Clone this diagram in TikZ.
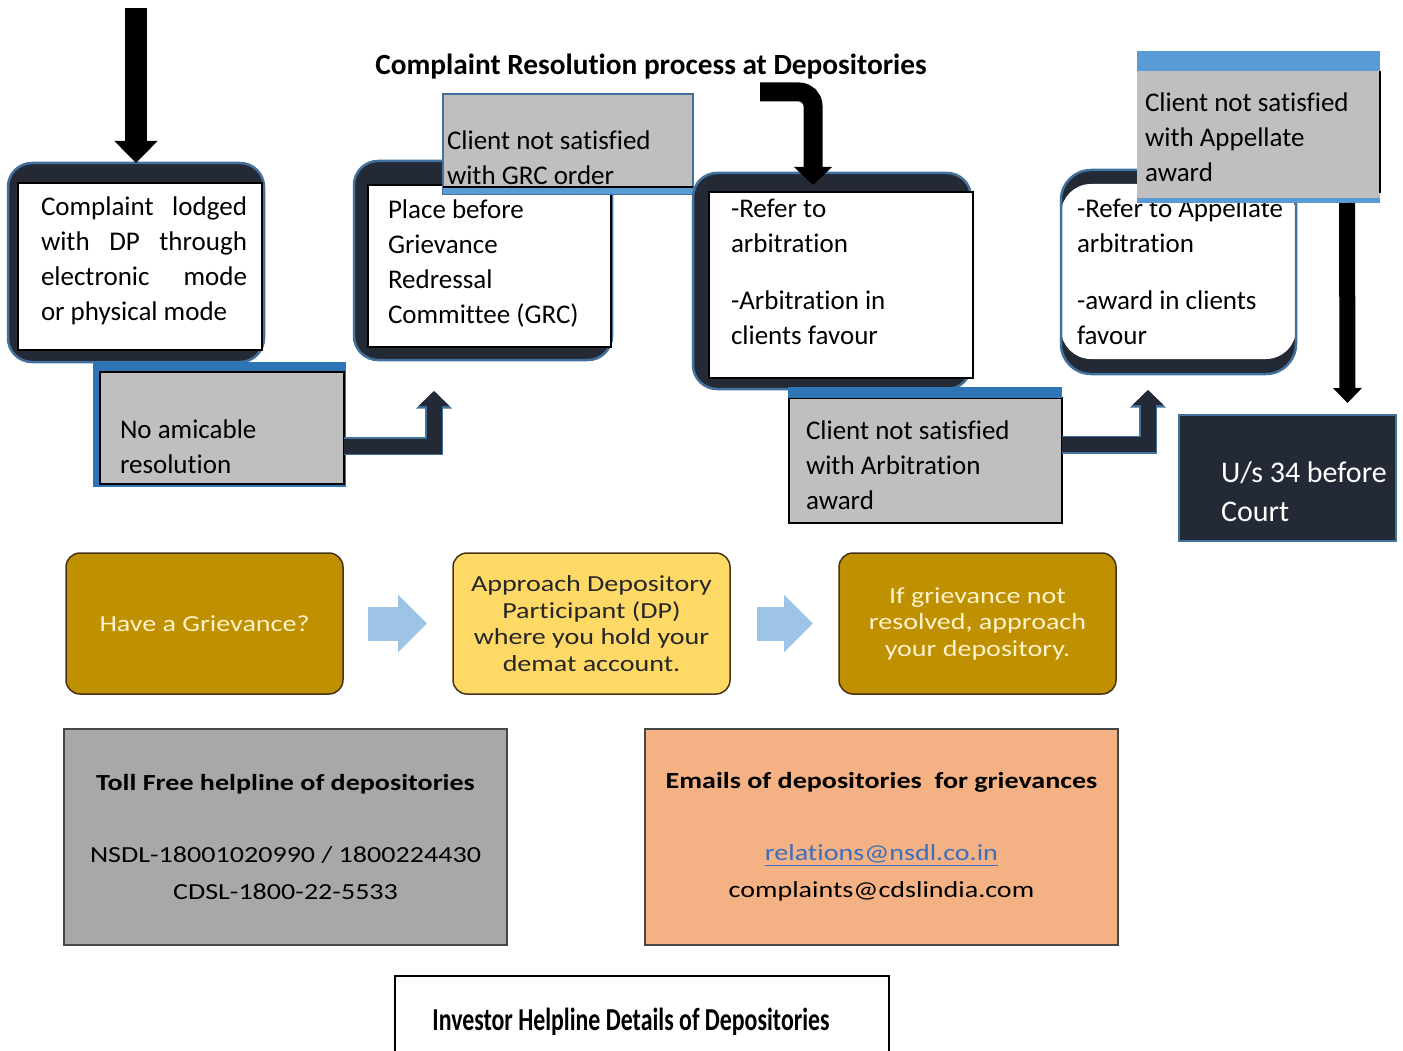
\documentclass[tikz,border=0pt]{standalone}
\usepackage{fontspec}
\defaultfontfeatures{Ligatures={TeX,NoCommon}}
\setmainfont{Carlito}
\newfontfamily\widefont[FakeStretch=1.22]{Carlito}
\newfontfamily\slimfont[FakeStretch=0.745]{Carlito}
\usetikzlibrary{arrows.meta,positioning}

\definecolor{navy}{RGB}{35,42,54}
\definecolor{edge}{RGB}{65,113,156}
\definecolor{band}{RGB}{46,117,182}
\definecolor{lightband}{RGB}{91,155,213}
\definecolor{boxgray}{RGB}{191,191,191}
\definecolor{gold}{RGB}{191,144,0}
\definecolor{palegold}{RGB}{255,217,102}
\definecolor{cream}{RGB}{255,242,204}
\definecolor{softblue}{RGB}{157,195,230}
\definecolor{tollgray}{RGB}{170,167,167}
\definecolor{peach}{RGB}{244,177,131}
\definecolor{linkblue}{RGB}{59,110,190}
\definecolor{tileline}{RGB}{70,50,20}

\begin{document}
\begin{tikzpicture}
[x=1pt, y=-1pt, font=\fontsize{27}{35}\selectfont,
% STYLES
every node/.style={inner sep=0pt, outer sep=0pt},
% The round frames hold the steps of the process
round_frame/.style={rectangle, rounded corners=24pt, fill=navy, draw=edge, line width=2.5pt, anchor=north west},
white_box/.style={rectangle, fill=white, draw=black, line width=1.5pt, anchor=north west},
gray_box/.style={rectangle, fill=boxgray, draw=black, line width=1.5pt, anchor=north west},
words/.style={anchor=west, align=left},
% Block arrows
fat_arrow/.style={draw=navy, line width=15pt, -{Triangle[width=30pt,length=15pt]}, preaction={draw=edge, line width=18pt, -{Triangle[width=35pt,length=17.5pt]}}},
soft_arrow/.style={draw=softblue, line width=34pt, -{Triangle[width=56pt,length=29pt]}},
% Boxes of the helpline part
tile/.style={rectangle, rounded corners=14pt, draw=tileline, line width=1.5pt, anchor=north west, minimum width=277, minimum height=141, align=center, font=\widefont\fontsize{23}{26.5}\selectfont},
info_box/.style={rectangle, draw={rgb,255:red,70;green,70;blue,70}, line width=1.5pt, anchor=north west, minimum height=216, align=center, font=\widefont\fontsize{23}{37}\selectfont}]

\useasboundingbox (0,0) rectangle (1403,1051);

\node [font=\bfseries\fontsize{29.3}{34}\selectfont] (title) at (651,67) {Complaint Resolution process at Depositories};

% Draw steps
\node [round_frame, minimum width=256, minimum height=199] (lodged_frame) at (8,163) {};
\node [white_box, minimum width=244, minimum height=167] (lodged) at (18,183) {};
\node [words, text width=206] (lodged_text) at ([shift={(23,77.5)}]lodged.north west) {Complaint\hfill lodged\\
with\hfill DP\hfill through\\
electronic\hfill mode\\
or\hspace{0.226em}physical\hspace{0.226em}mode\hfill\mbox{}};

\node [fill=band, anchor=north west, minimum width=253, minimum height=125] (amicable_frame) at (93,362) {};
\node [gray_box, minimum width=244, minimum height=112] (amicable) at (100,372) {};
\node [words] (amicable_text) at ([shift={(20,75)}]amicable.north west) {No amicable\\
resolution};

\node [round_frame, minimum width=258, minimum height=199] (grc_frame) at (354,161) {};
\node [white_box, minimum width=243, minimum height=162] (grc) at (368,185) {};
\node [words] (grc_text) at ([shift={(20,78.5)}]grc.north west) {Place before\\
Grievance\\
Redressal\\
Committee (GRC)};

\node [gray_box, draw=edge, line width=2pt, minimum width=250, minimum height=100] (grc_order) at (443,94) {};
\fill [lightband] (grc_order.south west) rectangle ([yshift=7pt]grc_order.south east);
\draw [line width=1.5pt] ([yshift=7pt]grc_order.south west) -- ([yshift=7pt]grc_order.south east);
\node [words] (grc_order_text) at ([shift={(4,63.5)}]grc_order.north west) {Client not satisfied\\
with GRC order};

\node [round_frame, minimum width=278, minimum height=216] (arb_frame) at (693,173) {};
\node [white_box, minimum width=264, minimum height=186] (arb) at (709,192) {};
\node [words] (arb_text) at ([shift={(22,79.5)}]arb.north west) {-Refer to\\
arbitration\\[22pt]
-Arbitration in\\
clients favour};

\node [gray_box, minimum width=273, minimum height=125] (arb_award) at (789,398) {};
\fill [band] ([xshift=-1pt]arb_award.north west) rectangle ([yshift=11pt]arb_award.north east);
\node [words] (arb_award_text) at ([shift={(17,67)}]arb_award.north west) {Client not satisfied\\
with Arbitration\\
award};

\node [round_frame, rounded corners=30pt, minimum width=235, minimum height=204,
  path picture={\fill [white] ([yshift=-14pt]path picture bounding box.north west) rectangle ([yshift=15pt]path picture bounding box.south east);}] (appeal_frame) at (1061,170) {};
\node [words] (appeal_text) at ([shift={(16,101.5)}]appeal_frame.north west) {-Refer to Appellate\\
arbitration\\[22pt]
-award in clients\\
favour};

\node [gray_box, draw=none, minimum width=243, minimum height=152] (appellate) at (1137,51) {};
\fill [lightband] (appellate.north west) rectangle ([yshift=-20pt]appellate.north east);
\fill [lightband] (appellate.south west) rectangle ([yshift=5pt]appellate.south east);
\draw [line width=1.5pt] ([yshift=-20pt]appellate.north east) -- ([yshift=10pt]appellate.south east);
\node [words] (appellate_text) at ([shift={(8,86.5)}]appellate.north west) {Client not satisfied\\
with Appellate\\
award};

\node [fill=navy, draw=edge, line width=2pt, anchor=north west, minimum width=217, minimum height=126] (court) at (1179,415) {};
\node [words, text=white, font=\fontsize{30}{39}\selectfont] (court_text) at ([shift={(42,76.5)}]court.north west) {U/s 34 before\\
Court};

%%%%%%%%%%%%%%%

% arrows of the process
\coordinate (entry) at (136,8);
\draw [line width=22pt, -{Triangle[width=42pt,length=22pt]}] (entry) -- (lodged_frame.north);
\coordinate (curl) at (760,92);
\draw [line width=19pt, rounded corners=14pt, -{Triangle[width=37pt,length=18pt]}] (curl) -| ([xshift=-19pt,yshift=-12pt]arb_frame.north);
\draw [fat_arrow] ([yshift=-18pt]amicable.east) -| ([xshift=80pt,yshift=-31pt]grc_frame.south west);
\draw [fat_arrow] ([yshift=16pt]arb_award.east) -| ([xshift=87pt,yshift=-16pt]appeal_frame.south west);
\draw [line width=16pt, -{Triangle[width=28pt,length=15pt]}] ([xshift=-33pt]appellate.south east) -- ([xshift=60pt,yshift=12pt]court.north);

%%%%%%%%%%%%%%%

% helpline part
\node [tile, fill=gold, text=cream] (grievance) at (66,553) {Have a Grievance?};
\node [tile, fill=palegold, text={rgb,255:red,38;green,38;blue,38}] (approach_dp) at (453,553) {Approach Depository\\
Participant (DP)\\
where you hold your\\
demat account.};
\node [tile, fill=gold, text=cream] (approach_dep) at (839,553) {If grievance not\\
resolved, approach\\
your depository.};

\draw [soft_arrow] ([xshift=25pt]grievance.east) -- ([xshift=-26pt]approach_dp.west);
\draw [soft_arrow] ([xshift=27pt]approach_dp.east) -- ([xshift=-26pt]approach_dep.west);

\node [info_box, fill=tollgray, minimum width=443] (tollfree) at (64,729) {{\bfseries Toll Free helpline of depositories}\\[35pt]
NSDL-18001020990 / 1800224430\\
CDSL-1800-22-5533};
\node [info_box, fill=peach, minimum width=473] (emails) at (645,729) {{\bfseries Emails of depositories\ \ for grievances}\\[35pt]
{\color{linkblue}\underline{relations@nsdl.co.in}}\\
complaints@cdslindia.com};

\node [draw, line width=1.5pt, anchor=north west, minimum width=494, minimum height=92, font=\slimfont\bfseries\fontsize{32}{36}\selectfont] (helpline) at (395,976) {Investor Helpline Details of Depositories\hspace*{22pt}};

\end{tikzpicture}
\end{document}
